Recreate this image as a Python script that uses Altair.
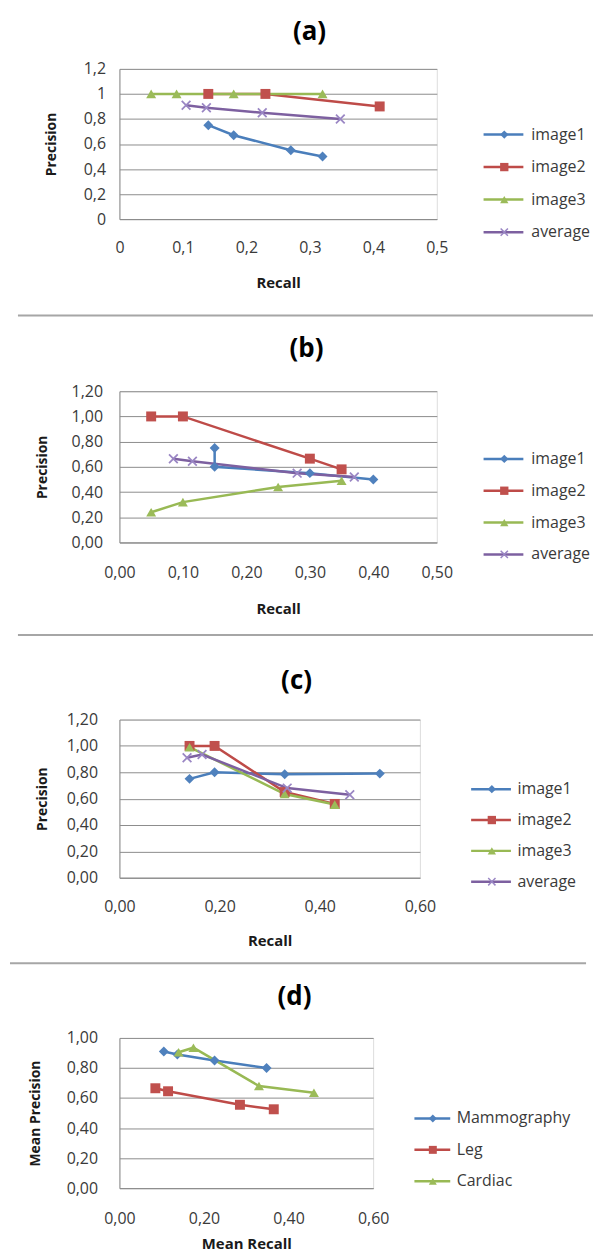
import altair as alt
import pandas as pd

FONT = "Open Sans"

# ---------------- data ----------------
# (a)
a_names = ["image1", "image2", "image3", "average"]
a_image1_x = [0.14, 0.18, 0.27, 0.32]
a_image1_y = [0.75, 0.67, 0.55, 0.50]
a_image2_x = [0.14, 0.23, 0.41]
a_image2_y = [1.00, 1.00, 0.90]
a_image3_x = [0.05, 0.09, 0.18, 0.32]
a_image3_y = [1.00, 1.00, 1.00, 1.00]
a_average_x = [0.105, 0.137, 0.225, 0.348]
a_average_y = [0.91, 0.89, 0.85, 0.80]

# (b)
b_names = ["image1", "image2", "image3", "average"]
b_image1_x = [0.15, 0.15, 0.30, 0.40]
b_image1_y = [0.75, 0.60, 0.55, 0.50]
b_image2_x = [0.05, 0.10, 0.30, 0.35]
b_image2_y = [1.00, 1.00, 0.665, 0.58]
b_image3_x = [0.05, 0.10, 0.25, 0.35]
b_image3_y = [0.24, 0.32, 0.44, 0.49]
b_average_x = [0.085, 0.115, 0.28, 0.37]
b_average_y = [0.665, 0.645, 0.55, 0.52]

# (c)
c_names = ["image1", "image2", "image3", "average"]
c_image1_x = [0.14, 0.19, 0.33, 0.52]
c_image1_y = [0.75, 0.80, 0.785, 0.79]
c_image2_x = [0.14, 0.19, 0.33, 0.43]
c_image2_y = [1.00, 1.00, 0.65, 0.56]
c_image3_x = [0.14, 0.33, 0.43]
c_image3_y = [0.99, 0.635, 0.555]
c_average_x = [0.135, 0.165, 0.335, 0.46]
c_average_y = [0.91, 0.935, 0.68, 0.63]

# (d)
d_names = ["Mammography", "Leg", "Cardiac"]
d_mammo_x = [0.105, 0.137, 0.225, 0.348]
d_mammo_y = [0.91, 0.89, 0.85, 0.80]
d_leg_x = [0.085, 0.115, 0.285, 0.365]
d_leg_y = [0.665, 0.645, 0.555, 0.525]
d_cardiac_x = [0.14, 0.175, 0.33, 0.46]
d_cardiac_y = [0.905, 0.935, 0.68, 0.635]

# tick values
ticks_a_x = [0, 0.1, 0.2, 0.3, 0.4, 0.5]
ticks_a_y = [0, 0.2, 0.4, 0.6, 0.8, 1.0, 1.2]
ticks_b_x = [0, 0.1, 0.2, 0.3, 0.4, 0.5]
ticks_b_y = [0, 0.2, 0.4, 0.6, 0.8, 1.0, 1.2]
ticks_c_x = [0, 0.2, 0.4, 0.6]
ticks_c_y = [0, 0.2, 0.4, 0.6, 0.8, 1.0, 1.2]
ticks_d_x = [0, 0.2, 0.4, 0.6]
ticks_d_y = [0, 0.2, 0.4, 0.6, 0.8, 1.0]

# ---------------- styles ----------------
LINE_COLORS = ["#4A7EBB", "#BE4B48", "#98B954", "#7D60A0"]
MARK_COLORS = ["#4F81BD", "#C0504D", "#9BBB59", "#9A86C4"]
XMARK = ("M-1,-0.75L-0.75,-1L0,-0.25L0.75,-1L1,-0.75L0.25,0L1,0.75L0.75,1"
         "L0,0.25L-0.75,1L-1,0.75L-0.25,0Z")
SHAPES = ["diamond", "square", "triangle-up", XMARK]
GRID = "#8C8C8C"
TXT = "#3A3A3A"


def panel(title, names, xs_list, ys_list, x_max, x_vals, y_max, y_vals, fmt,
          w, h, x_title, y_title, cfg):
    rows = []
    for name, xs, ys in zip(names, xs_list, ys_list):
        for i, (x, y) in enumerate(zip(xs, ys)):
            rows.append({"series": name, "ord": i, "recall": x, "precision": y})
    df = pd.DataFrame(rows)
    k = len(names)
    if fmt == "g":
        lab = "replace(format(datum.value, '~g'), '.', ',')"
    else:
        lab = "replace(format(datum.value, '.2f'), '.', ',')"

    x_enc = alt.X(
        "recall:Q",
        scale=alt.Scale(domain=[0, x_max], nice=False, zero=True),
        axis=alt.Axis(
            values=x_vals, grid=False, ticks=False, domainColor=GRID, domainWidth=1,
            labelExpr=lab, labelFlush=False, labelOverlap=False,
            labelPadding=cfg["xlp"], labelFont=FONT, labelFontSize=16, labelColor=TXT,
            title=x_title, titleFont=FONT, titleFontSize=15, titleFontWeight="bold",
            titleColor="#1a1a1a", titleY=cfg["xty"], titleBaseline="middle",
        ),
    )
    y_enc = alt.Y(
        "precision:Q",
        scale=alt.Scale(domain=[0, y_max], nice=False, zero=True),
        axis=alt.Axis(
            values=y_vals, grid=True, gridColor=GRID, gridWidth=1, ticks=False,
            domainColor=GRID, domainWidth=1, labelExpr=lab, labelOverlap=False,
            labelPadding=cfg["ylp"], labelFont=FONT, labelFontSize=16, labelColor=TXT,
            title=y_title, titleFont=FONT, titleFontSize=14, titleFontWeight="bold",
            titleColor="#1a1a1a", titleX=cfg["ytx"], titleY=h / 2, titleAngle=270,
            titleAlign="center", titleBaseline="middle",
        ),
    )

    ss = cfg["ss"]
    # legend A: the line part of each entry, with the labels
    leg_lines = alt.Legend(
        title=None, orient="none", legendX=cfg["lx"], legendY=cfg["ly"],
        symbolType="M-4,0L4,0", symbolSize=ss, symbolStrokeWidth=2.5,
        labelOffset=cfg["lo"], rowPadding=cfg["rp"],
        labelFont=FONT, labelFontSize=16, labelColor=TXT,
    )
    # legend B: the marker part of each entry, drawn on top of legend A
    mk = cfg["mk"]
    leg_marks = alt.Legend(
        title=None, orient="none", legendX=cfg["lx"] + (ss ** 0.5 - mk ** 0.5) / 2,
        legendY=cfg["ly"], symbolSize=mk, symbolStrokeWidth=0, symbolOpacity=1,
        labelOffset=cfg["lo"], rowPadding=cfg["rp"],
        labelFont=FONT, labelFontSize=16, labelOpacity=0,
    )

    lines = alt.Chart(df).mark_line(strokeWidth=2.5).encode(
        x=x_enc, y=y_enc,
        stroke=alt.Stroke("series:N", sort=names, scale=alt.Scale(range=LINE_COLORS[:k]),
                          legend=leg_lines),
        order=alt.Order("ord:Q"),
    )
    points = alt.Chart(df).mark_point(filled=True, size=100, opacity=1).encode(
        x=x_enc, y=y_enc,
        color=alt.Color("series:N", scale=alt.Scale(domain=names, range=MARK_COLORS[:k]),
                        legend=leg_marks),
        shape=alt.Shape("series:N", scale=alt.Scale(domain=names, range=SHAPES[:k]),
                        legend=leg_marks),
    )
    layers = [lines, points]
    one = pd.DataFrame({"k": [0]})
    # panel title
    layers.append(
        alt.Chart(one).mark_text(
            text=title, font=FONT, fontSize=26, fontWeight="bold", color="black",
            align="center", baseline="middle",
        ).encode(x=alt.value(cfg["tx"]), y=alt.value(cfg["ty"]))
    )
    # invisible band marker (keeps panel bands in place)
    layers.append(
        alt.Chart(one).mark_rule(opacity=0, strokeWidth=1).encode(
            x=alt.value(cfg["left"]), x2=alt.value(0), y=alt.value(cfg["top"])
        )
    )
    if cfg.get("sep") is not None:
        sy, sx1, sx2 = cfg["sep"]
        layers.append(
            alt.Chart(one).mark_rule(color="#A6A6A6", strokeWidth=2).encode(
                x=alt.value(sx1), x2=alt.value(sx2), y=alt.value(sy)
            )
        )
    return alt.layer(*layers).properties(width=w, height=h)


pa = panel("(a)", a_names,
           [a_image1_x, a_image2_x, a_image3_x, a_average_x],
           [a_image1_y, a_image2_y, a_image3_y, a_average_y],
           0.5, ticks_a_x, 1.2, ticks_a_y, "g", 319, 151, "Recall", "Precision",
           dict(xlp=21, xty=64, ylp=14, ytx=-68, lx=378, ly=58, lo=20, rp=16.7, ss=100, mk=70,
                left=-111, top=-57, sep=(248, -102, 476), tx=191, ty=-37))
pb = panel("(b)", b_names,
           [b_image1_x, b_image2_x, b_image3_x, b_average_x],
           [b_image1_y, b_image2_y, b_image3_y, b_average_y],
           0.5, ticks_b_x, 1.2, ticks_b_y, "2", 319, 152, "Recall", "Precision",
           dict(xlp=22, xty=66, ylp=17, ytx=-77, lx=378, ly=60, lo=20, rp=16, ss=100, mk=70,
                left=-111, top=-73, sep=(245, -102, 476), tx=188, ty=-42))
pc = panel("(c)", c_names,
           [c_image1_x, c_image2_x, c_image3_x, c_average_x],
           [c_image1_y, c_image2_y, c_image3_y, c_average_y],
           0.6, ticks_c_x, 1.2, ticks_c_y, "2", 302, 159, "Recall", "Precision",
           dict(xlp=21, xty=63, ylp=22, ytx=-77, lx=365.5, ly=62, lo=18.5, rp=15, ss=100, mk=70,
                left=-110, top=-82, sep=(245, -110, 469), tx=178, ty=-39))
pd_ = panel("(d)", d_names,
            [d_mammo_x, d_leg_x, d_cardiac_x],
            [d_mammo_y, d_leg_y, d_cardiac_y],
            0.6, ticks_d_x, 1.0, ticks_d_y, "2", 255, 151, "Mean Recall", "Mean Precision",
            dict(xlp=23, xty=56, ylp=22, ytx=-84, lx=306.5, ly=73, lo=16.5, rp=15.5, ss=81, mk=64,
                 left=-100, top=-72, sep=None, tx=176, ty=-41))

chart = alt.vconcat(pa, pb, pc, pd_, spacing=0).resolve_scale(
    color="independent", stroke="independent", fill="independent", shape="independent"
).properties(
    padding={"left": 0, "top": 0, "right": 0, "bottom": 0},
    background="white",
).configure_view(stroke="transparent").configure(font=FONT)

chart.save("out.html", embed_options={"renderer": "svg", "actions": False})
